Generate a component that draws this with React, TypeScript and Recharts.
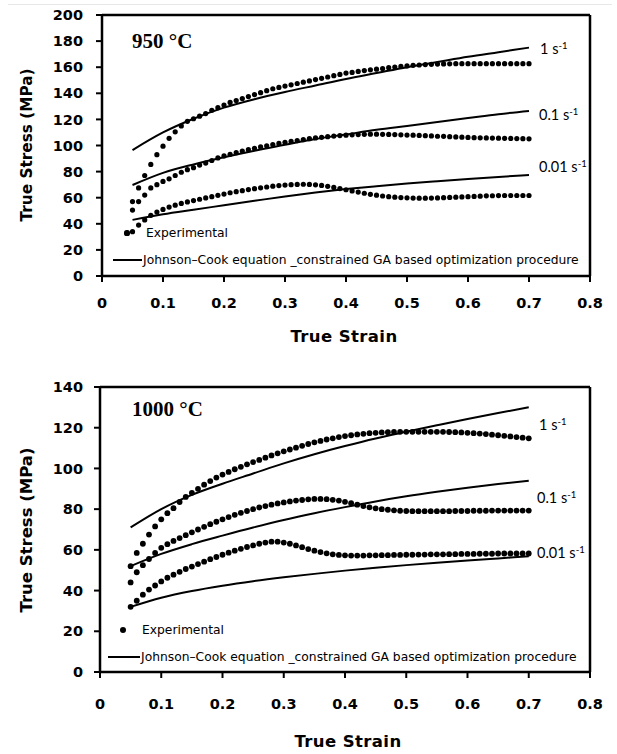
import React from 'react';
import { ComposedChart, Line, Scatter, XAxis, YAxis, ReferenceLine } from 'recharts';

// strain grids
const EXP_STRAIN = [
  0.05, 0.06, 0.07, 0.08, 0.09, 0.1, 0.11, 0.12, 0.13, 0.14,
  0.15, 0.16, 0.17, 0.18, 0.19, 0.2, 0.21, 0.22, 0.23, 0.24,
  0.25, 0.26, 0.27, 0.28, 0.29, 0.3, 0.31, 0.32, 0.33, 0.34,
  0.35, 0.36, 0.37, 0.38, 0.39, 0.4, 0.41, 0.42, 0.43, 0.44,
  0.45, 0.46, 0.47, 0.48, 0.49, 0.5, 0.51, 0.52, 0.53, 0.54,
  0.55, 0.56, 0.57, 0.58, 0.59, 0.6, 0.61, 0.62, 0.63, 0.64,
  0.65, 0.66, 0.67, 0.68, 0.69, 0.7,
];
const MODEL_STRAIN = [0.05, 0.1, 0.15, 0.2, 0.25, 0.3, 0.35, 0.4, 0.45, 0.5, 0.55, 0.6, 0.65, 0.7];

const X_TICKS = [0, 0.1, 0.2, 0.3, 0.4, 0.5, 0.6, 0.7, 0.8];
const Y_TICKS_950 = [0, 20, 40, 60, 80, 100, 120, 140, 160, 180, 200];
const Y_TICKS_1000 = [0, 20, 40, 60, 80, 100, 120, 140];

// 950 °C experimental
const EXP_950_1 = [
  57, 67.5, 77, 85.5, 93, 99.5, 105.5, 110.5, 115, 118.5,
  120.5, 122.5, 124.5, 127, 129, 131, 133, 134.5, 136, 137.5,
  139, 140.5, 142, 143.5, 144.5, 145.5, 146.5, 147.5, 148.5, 149.5,
  150.5, 151.5, 152.5, 153.5, 154.5, 155.5, 156, 156.8, 157.4, 158,
  158.5, 159, 159.6, 160.1, 160.6, 161, 161.4, 161.7, 162, 162.2,
  162.4, 162.5, 162.6, 162.7, 162.7, 162.7, 162.7, 162.7, 162.7, 162.7,
  162.7, 162.7, 162.7, 162.7, 162.7, 162.7,
];
const EXP_950_01 = [
  50.5, 57, 62, 67.5, 70, 72.5, 74.5, 77, 79.5, 81.5,
  83, 85, 86.5, 88.5, 90.5, 92, 93.2, 94.5, 95.7, 96.8,
  97.9, 98.9, 99.8, 100.7, 101.6, 102.4, 103.1, 103.8, 104.5, 105.2,
  105.8, 106.3, 106.8, 107.2, 107.6, 107.9, 108.2, 108.4, 108.6, 108.7,
  108.7, 108.6, 108.5, 108.4, 108.2, 108, 107.9, 107.7, 107.5, 107.3,
  107.1, 107, 106.8, 106.6, 106.4, 106.2, 106, 105.9, 105.8, 105.7,
  105.6, 105.5, 105.4, 105.3, 105.2, 105.1,
];
const EXP_950_001 = [
  34, 39, 43, 46.5, 49, 51, 52.8, 54.3, 55.6, 56.8,
  57.8, 58.8, 59.8, 60.8, 61.8, 62.8, 63.8, 64.6, 65.4, 66.2,
  66.9, 67.6, 68.2, 68.8, 69.3, 69.7, 70, 70.2, 70.3, 70.2,
  69.9, 69.4, 68.7, 67.9, 67, 66.1, 65.2, 64.3, 63.4, 62.6,
  61.9, 61.3, 60.8, 60.4, 60.1, 59.9, 59.7, 59.6, 59.6, 59.7,
  59.8, 60, 60.2, 60.4, 60.6, 60.8, 61, 61.2, 61.4, 61.5,
  61.6, 61.7, 61.7, 61.7, 61.7, 61.7,
];

// 950 °C Johnson-Cook
const JC_950_1 = [96.5, 110, 120.5, 129, 135.5, 141, 146, 151, 155.5, 160, 164, 168, 171.5, 175];
const JC_950_01 = [69.7, 79, 85.5, 91, 96, 100.5, 105, 108.5, 112, 115, 118, 121, 124, 126.5];
const JC_950_001 = [43, 47.3, 50.8, 54.2, 57.6, 61, 64, 66.6, 68.8, 70.8, 72.6, 74.3, 75.9, 77.4];

// 1000 °C experimental
const EXP_1000_1 = [
  52, 58.5, 63, 67.5, 71.5, 75, 78, 80.5, 83.5, 86,
  88, 90, 92, 93.8, 95.5, 97, 98.3, 99.6, 100.8, 102,
  103.1, 104.2, 105.3, 106.4, 107.4, 108.4, 109.3, 110.2, 111.1, 112,
  112.8, 113.5, 114.2, 114.8, 115.4, 115.9, 116.3, 116.7, 117, 117.3,
  117.5, 117.7, 117.8, 117.9, 118, 118, 118, 118, 118, 118,
  118, 118, 117.9, 117.8, 117.7, 117.5, 117.3, 117.1, 116.9, 116.6,
  116.3, 116, 115.7, 115.4, 115.1, 114.8,
];
const EXP_1000_01 = [
  44, 49, 52.5, 55.5, 58.5, 61, 62.8, 64.4, 65.8, 67.2,
  68.6, 70, 71.3, 72.6, 73.8, 75, 76.1, 77.2, 78.2, 79.1,
  80, 80.8, 81.5, 82.2, 82.8, 83.3, 83.8, 84.2, 84.5, 84.8,
  85, 85, 84.9, 84.6, 84.2, 83.6, 82.9, 82.2, 81.5, 80.9,
  80.4, 80, 79.7, 79.4, 79.2, 79.1, 79, 79, 79, 79,
  79, 79, 79, 79.1, 79.1, 79.1, 79.2, 79.2, 79.2, 79.3,
  79.3, 79.3, 79.3, 79.3, 79.3, 79.3,
];
const EXP_1000_001 = [
  32, 35, 38, 40.5, 42.5, 44.5, 46.3, 47.8, 49.2, 50.6,
  51.8, 53, 54.2, 55.4, 56.5, 57.6, 58.6, 59.6, 60.5, 61.4,
  62.2, 63, 63.6, 64, 64, 63.6, 63, 62.2, 61.3, 60.4,
  59.6, 58.9, 58.3, 57.8, 57.5, 57.3, 57.2, 57.2, 57.2, 57.3,
  57.3, 57.4, 57.4, 57.5, 57.5, 57.6, 57.6, 57.7, 57.7, 57.8,
  57.8, 57.8, 57.9, 57.9, 58, 58, 58, 58.1, 58.1, 58.1,
  58.2, 58.2, 58.2, 58.2, 58.2, 58.2,
];

// 1000 °C Johnson-Cook
const JC_1000_1 = [71, 80, 87, 92.5, 97.5, 102.5, 107, 111, 114.7, 118, 121.2, 124.3, 127.2, 130];
const JC_1000_01 = [52, 58, 62.8, 67, 71, 74.7, 78, 81, 83.8, 86.3, 88.5, 90.5, 92.3, 94];
const JC_1000_001 = [32, 36.5, 39.8, 42.4, 44.6, 46.5, 48.2, 49.8, 51.2, 52.5, 53.7, 54.8, 55.8, 56.8];

const LEGEND_LINE = 'Johnson\u2013Cook equation _constrained GA based optimization procedure';

const toPts = (xs: number[], ys: number[]) => xs.map((x, i) => ({ x, y: ys[i] }));

const TICK_FONT = { fill: '#000', fontSize: 14.5, fontWeight: 'bold', fontFamily: 'DejaVu Sans' };
const LABEL_FONT = 'DejaVu Sans';

const makeDot = (r: number) => (props: any) => (
  <circle cx={props.cx} cy={props.cy} r={r} fill="#000" />
);

interface PanelProps {
  top: number;
  height: number;
  yMax: number;
  yTicks: number[];
  yAxisWidth: number;
  xTickMargin: number;
  yTickMargin: number;
  dotR: number;
  exp: number[][];
  jc: number[][];
}

const Panel: React.FC<PanelProps> = ({ top, height, yMax, yTicks, yAxisWidth, xTickMargin, yTickMargin, dotR, exp, jc }) => {
  const dot = makeDot(dotR);
  return (
    <div style={{ position: 'absolute', left: 0, top }}>
      <ComposedChart width={617} height={height} margin={{ top: 15, right: 27, left: 0, bottom: 24 }}>
        <XAxis
          type="number"
          dataKey="x"
          domain={[0, 0.8]}
          ticks={X_TICKS}
          tickFormatter={(v) => String(v)}
          axisLine={{ stroke: '#000', strokeWidth: 2.5 }}
          tickLine={{ stroke: '#000', strokeWidth: 2 }}
          tickSize={6}
          tickMargin={xTickMargin}
          tick={TICK_FONT}
          height={40}
          interval={0}
        />
        <YAxis
          type="number"
          dataKey="y"
          domain={[0, yMax]}
          ticks={yTicks}
          axisLine={{ stroke: '#000', strokeWidth: 2.5 }}
          tickLine={{ stroke: '#000', strokeWidth: 2 }}
          tickSize={6}
          tickMargin={yTickMargin}
          tick={TICK_FONT}
          width={yAxisWidth}
          interval={0}
        />
        <ReferenceLine y={yMax} stroke="#000" strokeWidth={2.5} />
        <ReferenceLine x={0.8} stroke="#000" strokeWidth={2.5} />
        {jc.map((ys, i) => (
          <Line
            key={`jc-${i}`}
            data={toPts(MODEL_STRAIN, ys)}
            dataKey="y"
            type="monotone"
            stroke="#000"
            strokeWidth={2}
            dot={false}
            isAnimationActive={false}
          />
        ))}
        {exp.map((ys, i) => (
          <Scatter
            key={`exp-${i}`}
            data={toPts(EXP_STRAIN, ys)}
            dataKey="y"
            fill="#000"
            shape={dot}
            isAnimationActive={false}
          />
        ))}
      </ComposedChart>
    </div>
  );
};

const abs = (left: number, top: number, extra: React.CSSProperties = {}): React.CSSProperties => ({
  position: 'absolute',
  left,
  top,
  whiteSpace: 'nowrap',
  ...extra,
});

const Rate: React.FC<{ left: number; cy: number; value: string }> = ({ left, cy, value }) => (
  <div style={abs(left, cy - 9, { fontFamily: 'Lato', fontSize: 14.5, lineHeight: '18px', color: '#000' })}>
    {value} s<sup style={{ fontSize: 9.5, verticalAlign: 'top', lineHeight: '12px' }}>-1</sup>
  </div>
);

const YTitle: React.FC<{ cy: number; size: number }> = ({ cy, size }) => (
  <div
    style={abs(27 - 120, cy - 12, {
      width: 240,
      height: 24,
      lineHeight: '24px',
      textAlign: 'center',
      transform: 'rotate(-90deg)',
      fontFamily: LABEL_FONT,
      fontWeight: 'bold',
      fontSize: size,
    })}
  >
    True Stress (MPa)
  </div>
);

const XTitle: React.FC<{ cx: number; cy: number }> = ({ cx, cy }) => (
  <div
    style={abs(cx - 100, cy - 11, {
      width: 200,
      lineHeight: '22px',
      textAlign: 'center',
      fontFamily: LABEL_FONT,
      fontWeight: 'bold',
      fontSize: 16.5,
      letterSpacing: 0.4,
    })}
  >
    True Strain
  </div>
);

const Legend: React.FC<{ dotX: number; dotY: number; dotR: number; textX: number; lineX1: number; lineX2: number; lineY: number; lineTextX: number }> = (p) => {
  const txt: React.CSSProperties = { fontFamily: 'DejaVu Sans', fontSize: 12.3, lineHeight: '14px', color: '#000' };
  return (
    <>
      <div style={abs(p.dotX - p.dotR, p.dotY - p.dotR, { width: p.dotR * 2, height: p.dotR * 2, borderRadius: '50%', background: '#000' })} />
      <div style={abs(p.textX, p.dotY - 7, txt)}>Experimental</div>
      <div style={abs(p.lineX1, p.lineY - 1, { width: p.lineX2 - p.lineX1, height: 2, background: '#000' })} />
      <div style={abs(p.lineTextX, p.lineY - 7, txt)}>{LEGEND_LINE}</div>
    </>
  );
};

const Temp: React.FC<{ cy: number; text: string }> = ({ cy, text }) => (
  <div style={abs(132, cy - 12, { fontFamily: 'Liberation Serif', fontWeight: 'bold', fontSize: 21, lineHeight: '24px' })}>
    {text}
  </div>
);

export default function App() {
  return (
    <div style={{ position: 'absolute', left: 0, top: 0, width: 617, height: 754, background: '#fff', overflow: 'hidden' }}>
      <div style={abs(8, 4, { width: 604, height: 1, background: '#e8e8e8' })} />

      <Panel
        top={0}
        height={340}
        yMax={200}
        yTicks={Y_TICKS_950}
        yAxisWidth={102}
        xTickMargin={16}
        yTickMargin={13}
        dotR={2.6}
        exp={[EXP_950_1, EXP_950_01, EXP_950_001]}
        jc={[JC_950_1, JC_950_01, JC_950_001]}
      />
      <Temp cy={41} text="950 °C" />
      <Rate left={540} cy={49} value="1" />
      <Rate left={539} cy={115} value="0.1" />
      <Rate left={539} cy={167} value="0.01" />
      <Legend dotX={127} dotY={233} dotR={2.6} textX={146} lineX1={113} lineX2={142} lineY={260} lineTextX={143} />
      <YTitle cy={145} size={15.3} />
      <XTitle cx={344} cy={337} />

      <Panel
        top={372}
        height={364}
        yMax={140}
        yTicks={Y_TICKS_1000}
        yAxisWidth={100}
        xTickMargin={21}
        yTickMargin={11}
        dotR={2.9}
        exp={[EXP_1000_1, EXP_1000_01, EXP_1000_001]}
        jc={[JC_1000_1, JC_1000_01, JC_1000_001]}
      />
      <Temp cy={409} text="1000 °C" />
      <Rate left={539} cy={425} value="1" />
      <Rate left={537} cy={498} value="0.1" />
      <Rate left={537} cy={553} value="0.01" />
      <Legend dotX={123} dotY={630} dotR={3} textX={142} lineX1={108} lineX2={140} lineY={657} lineTextX={141} />
      <YTitle cy={530} size={16.5} />
      <XTitle cx={348} cy={742} />
    </div>
  );
}
